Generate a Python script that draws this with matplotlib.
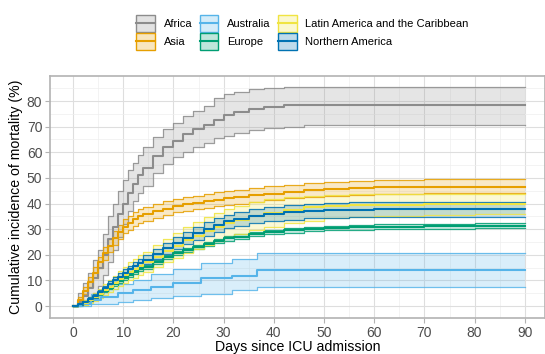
import matplotlib
matplotlib.use("Agg")
import matplotlib.pyplot as plt
from matplotlib.patches import Rectangle
from matplotlib.lines import Line2D
from matplotlib.legend_handler import HandlerBase

plt.rcParams["font.family"] = ["Liberation Sans", "DejaVu Sans"]

# Follow-up grid (days since ICU admission) at which the estimates are given
days = [0, 1, 2, 3, 4, 5, 6, 7, 8, 9, 10, 11, 12, 13, 14, 16, 18, 20, 22, 24,
        26, 28, 30, 32, 35, 38, 42, 46, 50, 55, 60, 70, 80, 90]

africa_est = [0, 1.5, 4, 7, 11, 15, 20, 26, 31, 36, 40, 44, 47.5, 51, 54, 58.5, 62, 64.5, 67, 69,
              70.8, 72.6, 74.5, 75.8, 77, 77.5, 78.3, 78.3, 78.3, 78.3, 78.3, 78.3, 78.3, 78.3]
africa_hi = [0, 5, 9, 13, 18, 22, 28, 35, 40, 45, 49, 53, 56, 59, 62, 66, 69, 71.3, 74, 76,
             78, 81, 82.8, 83.6, 84.5, 85, 85.6, 85.6, 85.6, 85.6, 85.6, 85.6, 85.6, 85.6]
africa_lo = [0, 0, 0.5, 2, 5, 8, 12, 17, 22, 27, 32, 37, 41, 44, 47, 52, 55.5, 58, 60, 62,
             63.5, 65.4, 66.5, 67.5, 68.7, 69.3, 70, 70.6, 70.6, 70.6, 70.6, 70.6, 70.6, 70.6]

asia_est = [0, 2.5, 6, 9.5, 13, 17, 20.5, 23.5, 26.5, 29, 31, 32.5, 34, 35, 35.8, 37, 38, 39, 39.7, 40.3,
            40.9, 41.5, 42, 42.5, 43.2, 43.8, 44.5, 45.1, 45.6, 46, 46.3, 46.5, 46.6, 46.6]
asia_hi = [0, 3.7, 7.6, 11.5, 15.2, 19.3, 23, 26.1, 29.2, 31.8, 33.8, 35.3, 36.8, 37.8, 38.6, 39.8, 40.8, 41.8, 42.5, 43.1,
           43.8, 44.4, 44.9, 45.4, 46.1, 46.7, 47.4, 48, 48.5, 48.9, 49.2, 49.4, 49.6, 49.6]
asia_lo = [0, 1.3, 4.5, 7.6, 10.9, 14.7, 18, 21, 23.9, 26.3, 28.3, 29.8, 31.3, 32.3, 33.1, 34.4, 35.5, 36.5, 37.2, 37.8,
           38.4, 39, 39.5, 40, 40.7, 41.3, 42, 42.6, 43.1, 43.5, 43.8, 44, 44.2, 44.2]

europe_est = [0, 0.7, 1.5, 2.5, 3.5, 4.7, 6, 7.2, 8.5, 9.8, 11, 12.1, 13.2, 14.3, 15.3, 17.2, 19, 20.6, 22, 23.2,
              24.3, 25.5, 26.4, 27.1, 28, 28.8, 29.5, 30, 30.4, 30.7, 30.9, 31.1, 31.3, 31.3]
europe_hi = [0, 0.9, 1.8, 2.9, 4.0, 5.25, 6.6, 7.85, 9.2, 10.5, 11.75, 12.85, 13.95, 15.05, 16.05, 17.95, 19.75, 21.4, 22.8, 24.0,
             25.1, 26.3, 27.25, 27.95, 28.85, 29.65, 30.4, 30.9, 31.35, 31.65, 31.85, 32.1, 32.3, 32.3]
europe_lo = [0, 0.5, 1.2, 2.1, 3.0, 4.15, 5.4, 6.55, 7.8, 9.1, 10.25, 11.35, 12.45, 13.55, 14.55, 16.45, 18.25, 19.85, 21.2, 22.4,
             23.5, 24.7, 25.55, 26.25, 27.15, 27.95, 28.6, 29.1, 29.5, 29.8, 30.0, 30.2, 30.4, 30.4]

latam_est = [0, 0.6, 1.2, 2.3, 3.5, 4.8, 6.2, 7.6, 9, 10.5, 12, 13.3, 14.6, 15.8, 17, 19.3, 21.5, 23.6, 25.6, 27.5,
             29.2, 30.8, 32.3, 33.5, 35, 36.3, 37.6, 38.5, 39, 39.4, 39.6, 39.7, 39.7, 39.7]
latam_hi = [0, 1.2, 2.2, 3.6, 5.1, 6.7, 8.4, 10.1, 11.8, 13.6, 15.4, 17, 18.5, 19.9, 21.2, 23.8, 26.3, 28.6, 30.8, 32.9,
            34.8, 36.4, 38, 39.2, 40.6, 41.6, 42.6, 43.1, 43.4, 43.6, 43.6, 43.6, 43.6, 43.6]
latam_lo = [0, 0.2, 0.5, 1.2, 2.1, 3.1, 4.2, 5.3, 6.5, 7.7, 8.9, 10, 11.1, 12.1, 13.1, 15.1, 17, 18.9, 20.7, 22.4,
            24, 25.5, 26.9, 28, 29.5, 30.9, 32.3, 33.3, 34.2, 34.9, 35.3, 35.6, 35.8, 35.8]

namerica_est = [0, 0.8, 1.5, 2.7, 4, 5.5, 7, 8.5, 10, 11.5, 13, 14.3, 15.5, 16.8, 18, 20.3, 22.5, 24.5, 26.5, 28.3,
                30, 31.5, 33, 34, 35, 35.8, 36.5, 37, 37.3, 37.6, 37.7, 37.7, 37.7, 37.7]
namerica_hi = [0, 1.1, 2.0, 3.4, 4.8, 6.4, 8.0, 9.6, 11.2, 12.8, 14.4, 15.8, 17.1, 18.5, 19.8, 22.3, 24.7, 26.8, 28.9, 30.8,
               32.6, 34.2, 35.7, 36.8, 37.8, 38.7, 39.4, 39.9, 40.2, 40.5, 40.6, 40.7, 40.7, 40.7]
namerica_lo = [0, 0.5, 1.0, 2.0, 3.2, 4.6, 6.0, 7.4, 8.8, 10.2, 11.6, 12.8, 13.9, 15.1, 16.2, 18.3, 20.4, 22.3, 24.2, 25.9,
               27.5, 28.9, 30.3, 31.2, 32.2, 33.0, 33.7, 34.2, 34.5, 34.8, 34.9, 34.9, 34.9, 34.9]

# Australia has few events, so it keeps its own event times
australia_days = [0, 1.5, 3.6, 5.5, 8.9, 12, 15.6, 20, 25.5, 31.6, 36.6, 90]
australia_est = [0, 0.8, 2.2, 3.5, 5.0, 6.2, 7.5, 9.0, 10.8, 11.7, 14.0, 14.0]
australia_hi = [0, 2.5, 4.5, 6.5, 8.5, 10.3, 12.3, 14.5, 16.9, 18.2, 20.8, 20.8]
australia_lo = [0, 0, 0.6, 0.9, 1.7, 2.4, 3.2, 3.9, 4.8, 6.2, 7.3, 7.3]

regions = ["Africa", "Asia", "Australia", "Europe",
           "Latin America and the Caribbean", "Northern America"]
colors = ["#8C8C8C", "#E69F00", "#56B4E9", "#009E73", "#F0E442", "#0072B2"]

series = {
    "Africa": (days, africa_est, africa_lo, africa_hi),
    "Asia": (days, asia_est, asia_lo, asia_hi),
    "Australia": (australia_days, australia_est, australia_lo, australia_hi),
    "Europe": (days, europe_est, europe_lo, europe_hi),
    "Latin America and the Caribbean": (days, latam_est, latam_lo, latam_hi),
    "Northern America": (days, namerica_est, namerica_lo, namerica_hi),
}

W, H = 545, 354
fig = plt.figure(figsize=(W / 100, H / 100), dpi=100)
ax = fig.add_axes([50 / W, 1 - 318 / H, 495 / W, 242 / H])

# step-function cumulative incidence with confidence band
for name, col in zip(regions, colors):
    t, est, lo, hi = series[name]
    ax.fill_between(t, lo, hi, step="post", color=col, alpha=0.22, lw=0, zorder=2)
for name, col in zip(regions, colors):
    t, est, lo, hi = series[name]
    ax.step(t, lo, where="post", color=col, lw=0.9, alpha=0.85, zorder=3)
    ax.step(t, hi, where="post", color=col, lw=0.9, alpha=0.85, zorder=3)
    ax.step(t, est, where="post", color=col, lw=1.5, zorder=4)

ax.set_xlim(-4.58, 94.02)
ax.set_ylim(-4.68, 89.76)
ax.set_xticks(range(0, 91, 10))
ax.set_yticks(range(0, 81, 10))
ax.set_xticks(range(5, 91, 10), minor=True)
ax.set_yticks(range(5, 86, 10), minor=True)
ax.grid(which="major", color="#DEDEDE", lw=0.8)
ax.grid(which="minor", color="#EEEEEE", lw=0.5)
ax.set_axisbelow(True)
for s in ax.spines.values():
    s.set_color("#B3B3B3")
    s.set_linewidth(1.2)
ax.tick_params(which="major", length=3.5, width=0.8, color="#B3B3B3",
               labelsize=10, labelcolor="#4D4D4D", pad=2)
ax.tick_params(which="minor", length=0)
ax.set_xlabel("Days since ICU admission", fontsize=10.2, labelpad=0.5)
ax.set_ylabel("Cumulative incidence of mortality (%)", fontsize=10.2, labelpad=3)


class BandKey(HandlerBase):
    """Legend key: shaded band with outline and a central line."""

    def create_artists(self, legend, orig_handle, xdescent, ydescent,
                       width, height, fontsize, trans):
        col = orig_handle.get_color()
        x0, y0 = -xdescent + 0.5, -ydescent - 0.6
        w, h = width - 1, height + 1.2
        rect = Rectangle((x0, y0), w, h, facecolor=col, alpha=0.25,
                         edgecolor="none", transform=trans)
        edge = Rectangle((x0, y0), w, h, facecolor="none", edgecolor=col,
                         lw=1.0, transform=trans)
        mid = Line2D([x0, x0 + w], [-ydescent + height / 2] * 2, color=col,
                     lw=1.5, transform=trans)
        return [rect, edge, mid]


handles = [Line2D([], [], color=c) for c in colors]
fig.legend(handles, regions, loc="upper left", bbox_to_anchor=(128 / W, 1 - 8 / H),
           ncol=3, frameon=False, fontsize=8, handler_map={Line2D: BandKey()},
           handlelength=1.8, handleheight=1.75, handletextpad=0.72,
           columnspacing=0.6, labelspacing=0.2, borderpad=0.2)

fig.savefig("out.png", dpi=100)
